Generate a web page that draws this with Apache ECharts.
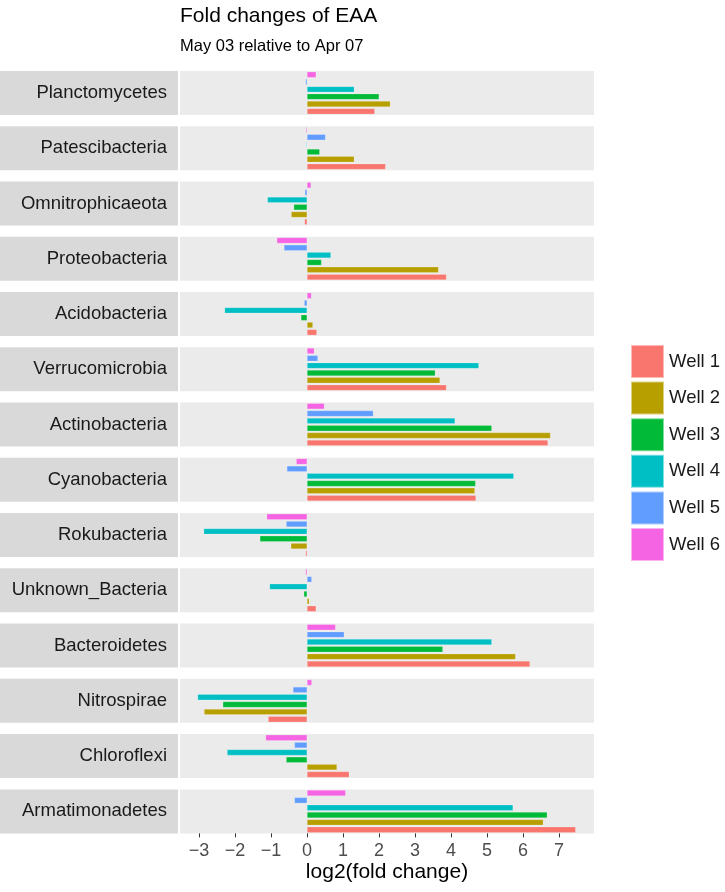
<!DOCTYPE html>
<html>
<head>
<meta charset="utf-8">
<script src="https://cdn.jsdelivr.net/npm/echarts@6/dist/echarts.min.js"></script>
<style>html,body{margin:0;padding:0;background:#fff;}#c{width:725px;height:892px;}</style>
</head>
<body>
<div id="c"></div>
<script>
// ---- data ----
const phyla = ['Planctomycetes','Patescibacteria','Omnitrophicaeota','Proteobacteria','Acidobacteria','Verrucomicrobia','Actinobacteria','Cyanobacteria','Rokubacteria','Unknown_Bacteria','Bacteroidetes','Nitrospirae','Chloroflexi','Armatimonadetes'];
const wellNames = ['Well 1','Well 2','Well 3','Well 4','Well 5','Well 6'];
const well1 = [1.88, 2.18, -0.07, 3.87, 0.27, 3.87, 6.69, 4.69, -0.04, 0.25, 6.19, -1.08, 1.17, 7.46];
const well2 = [2.31, 1.31, -0.44, 3.65, 0.16, 3.69, 6.76, 4.66, -0.45, 0.06, 5.79, -2.86, 0.83, 6.56];
const well3 = [2.00, 0.35, -0.37, 0.40, -0.17, 3.56, 5.13, 4.68, -1.31, -0.09, 3.77, -2.34, -0.58, 6.67];
const well4 = [1.31, -0.02, -1.10, 0.66, -2.29, 4.77, 4.11, 5.74, -2.87, -1.04, 5.13, -3.04, -2.22, 5.72];
const well5 = [-0.04, 0.51, -0.06, -0.64, -0.08, 0.30, 1.84, -0.56, -0.58, 0.13, 1.03, -0.39, -0.35, -0.35];
const well6 = [0.25, -0.03, 0.11, -0.84, 0.12, 0.20, 0.48, -0.30, -1.12, -0.04, 0.79, 0.13, -1.15, 1.07];
const tickValues = [-3, -2, -1, 0, 1, 2, 3, 4, 5, 6, 7];
const titleText = 'Fold changes of EAA';
const subtitleText = 'May 03 relative to Apr 07';
const xAxisName = 'log2(fold change)';

// ---- layout / style ----
const wellValues = [well1, well2, well3, well4, well5, well6];
const colors = ['#F8766D', '#B79F00', '#00BA38', '#00BFC4', '#619CFF', '#F564E3'];
const FONT = 'Liberation Sans, Arial, Helvetica, sans-serif';
const PANEL_TOP = 71, PITCH = 55.26, PANEL_H = 44, PANEL_LEFT = 180, PANEL_W = 414;
const XMIN = -3.53, XMAX = 7.97;
const n = phyla.length;

const grids = [], xAxes = [], yAxes = [], series = [], graphics = [];
for (let i = 0; i < n; i++) {
  const top = PANEL_TOP + i * PITCH;
  const last = i === n - 1;
  grids.push({left: PANEL_LEFT, top: top, width: PANEL_W, height: PANEL_H, show: true,
    backgroundColor: '#ebebeb', borderWidth: 0, containLabel: false});
  xAxes.push({
    gridIndex: i, type: 'value', min: XMIN, max: XMAX,
    axisLine: {show: false}, splitLine: {show: false},
    axisTick: {show: last, customValues: tickValues, length: 4, lineStyle: {color: '#333333', width: 1}},
    axisLabel: {show: last, customValues: tickValues, margin: 9, fontSize: 18, color: '#4d4d4d', fontFamily: FONT,
      formatter: v => (v < 0 ? '\u2212' + Math.abs(v) : String(v))},
    name: last ? xAxisName : '', nameLocation: 'middle', nameGap: 25,
    nameTextStyle: {fontSize: 21, color: '#000', fontFamily: FONT, verticalAlign: 'top'}
  });
  yAxes.push({gridIndex: i, type: 'category', data: wellNames,
    axisLine: {show: false}, axisTick: {show: false}, axisLabel: {show: false}, splitLine: {show: false}});
  for (let k = 0; k < wellNames.length; k++) {
    series.push({
      type: 'bar', name: wellNames[k], xAxisIndex: i, yAxisIndex: i,
      data: wellNames.map((w, j) => (j === k ? wellValues[k][i] : '-')),
      barWidth: 5.8, barGap: '-100%',
      itemStyle: {color: colors[k], borderColor: 'rgba(255,255,255,0.5)', borderWidth: 0.4},
      emphasis: {disabled: true}, silent: true
    });
  }
  graphics.push({type: 'rect', shape: {x: 0, y: top, width: 178, height: PANEL_H}, style: {fill: '#d9d9d9'}, silent: true});
  graphics.push({type: 'text', x: 167, y: top + PANEL_H / 2,
    style: {text: phyla[i], align: 'right', verticalAlign: 'middle', fill: '#1a1a1a', fontSize: 18.5, fontFamily: FONT}, silent: true});
}

const chart = echarts.init(document.getElementById('c'), null, {renderer: 'canvas'});
chart.setOption({
  animation: false,
  backgroundColor: '#ffffff',
  textStyle: {fontFamily: FONT},
  title: [
    {text: titleText, left: 175, top: 1, textStyle: {fontSize: 21, fontWeight: 'normal', color: '#000', fontFamily: FONT}},
    {text: subtitleText, left: 175, top: 33, textStyle: {fontSize: 16.5, fontWeight: 'normal', color: '#000', fontFamily: FONT}}
  ],
  legend: {
    data: wellNames, orient: 'vertical', left: 625, top: 339,
    itemWidth: 33, itemHeight: 33, itemGap: 1.6, icon: 'rect',
    textStyle: {fontSize: 18.5, color: '#1a1a1a', fontFamily: FONT},
    selectedMode: false
  },
  grid: grids,
  xAxis: xAxes,
  yAxis: yAxes,
  series: series,
  graphic: graphics
});
</script>
</body>
</html>
